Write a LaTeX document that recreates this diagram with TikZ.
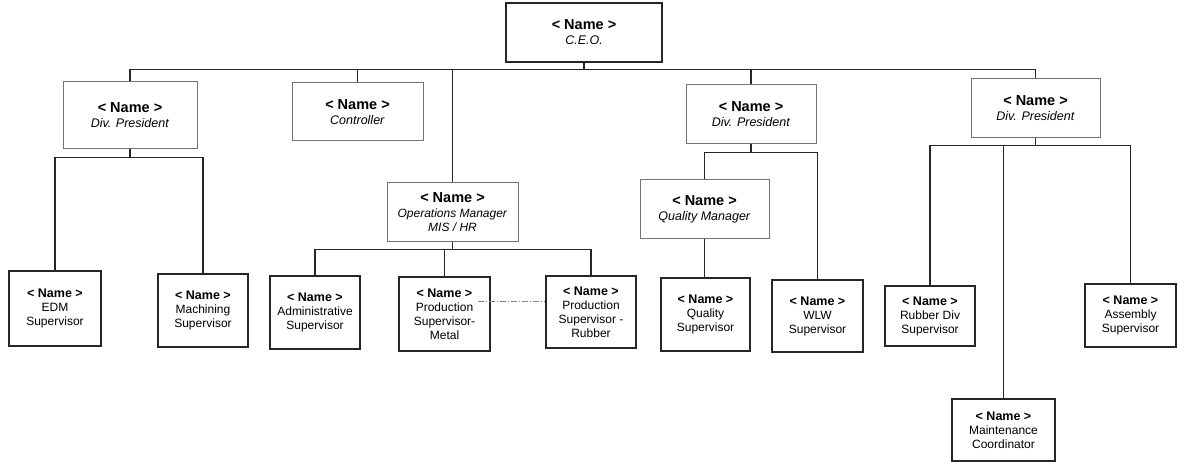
\documentclass[tikz,border=0pt]{standalone}
\usepackage{fontspec}
\setmainfont{Liberation Sans}
\begin{document}
\begin{tikzpicture}[x=1pt,y=-1pt,
  conn/.style={line width=1.4pt, draw=black!85},
  topbox/.style={draw=black!85, line width=1.3pt, inner sep=0pt, align=center,
    font=\fontsize{12.5}{15}\selectfont},
  midbox/.style={draw=black!55, line width=1pt, inner sep=0pt, align=center,
    font=\fontsize{12.5}{15}\selectfont},
  lowbox/.style={draw=black!85, line width=1.3pt, inner sep=0pt, align=center,
    font=\fontsize{12}{14}\selectfont},
  dotline/.style={draw=black!50, line width=0.6pt, dash pattern=on 6pt off 2pt on 1pt off 2pt}
]
\useasboundingbox (0,0) rectangle (1180,462);
\newcommand{\NM}{\textbf{\fontsize{14.5}{15}\selectfont < Name >}}
\newcommand{\NL}{\textbf{\fontsize{12.5}{14}\selectfont < Name >}}

% level 0
\node[topbox, minimum width=156pt, minimum height=59pt] (ceo) at (584,32.5) {\NM\\\textit{C.E.O.}};

% level 1
\node[midbox, minimum width=134pt, minimum height=67pt] (dp1) at (130,115.5) {\NM\\\textit{Div. President}};
\node[midbox, minimum width=131pt, minimum height=58pt] (ctrl) at (357.5,112) {\NM\\\textit{Controller}};
\node[midbox, minimum width=130pt, minimum height=59pt] (dp2) at (751,114.5) {\NM\\\textit{Div. President}};
\node[midbox, minimum width=129pt, minimum height=59pt] (dp3) at (1035.5,108.5) {\NM\\\textit{Div. President}};

% level 2
\node[midbox, minimum width=131pt, minimum height=59pt, font=\fontsize{12}{14.5}\selectfont] (ops) at (452.5,212.5) {\NM\\\textit{Operations Manager}\\\textit{MIS / HR}};
\node[midbox, minimum width=129pt, minimum height=59pt] (qm) at (704.5,209.5) {\NM\\\textit{Quality Manager}};

% level 3
\node[lowbox, minimum width=92pt, minimum height=75pt] (edm) at (55,308.5) {\NL\\EDM\\Supervisor};
\node[lowbox, minimum width=90pt, minimum height=73pt] (mach) at (203,310.5) {\NL\\Machining\\Supervisor};
\node[lowbox, minimum width=90pt, minimum height=73pt] (adm) at (315,312.5) {\NL\\Administrative\\Supervisor};
\node[lowbox, minimum width=91pt, minimum height=74pt] (metal) at (444.5,314) {\NL\\Production\\Supervisor-\\Metal};
\node[lowbox, minimum width=90pt, minimum height=72pt] (rub) at (591,312) {\NL\\Production\\Supervisor -\\Rubber};
\node[lowbox, minimum width=89pt, minimum height=73pt] (qs) at (705.5,314.5) {\NL\\Quality\\Supervisor};
\node[lowbox, minimum width=91pt, minimum height=72pt] (wlw) at (817.5,316) {\NL\\WLW\\Supervisor};
\node[lowbox, minimum width=90pt, minimum height=60pt] (rdiv) at (930,316) {\NL\\Rubber Div\\Supervisor};
\node[lowbox, minimum width=91pt, minimum height=63pt] (asm) at (1130.5,315.5) {\NL\\Assembly\\Supervisor};
\node[lowbox, minimum width=103pt, minimum height=62pt] (maint) at (1003.5,430) {\NL\\Maintenance\\Coordinator};

% connectors
\draw[conn] (ceo.south) -- ++(0,7) coordinate (tb);
\draw[conn] (dp1.north) |- (tb) -| (dp3.north);
\draw[conn] (ctrl.north) -- (ctrl.north |- tb);
\draw[conn] (ops.north) -- (ops.north |- tb);
\draw[conn] (dp2.north) -- (dp2.north |- tb);

\draw[conn] (dp1.south) -- ++(0,8) coordinate (b1);
\draw[conn] (edm.north) |- (b1) -| (mach.north);

\draw[conn] (ops.south) -- ++(0,7) coordinate (b2);
\draw[conn] (adm.north) |- (b2) -| (rub.north);
\draw[conn] (metal.north) -- (metal.north |- b2);

\draw[conn] (dp2.south) -- ++(0,8) coordinate (b3);
\draw[conn] (qm.north) |- (b3) -| (wlw.north);
\draw[conn] (qm.south) -- (qm.south |- qs.north);

\draw[conn] (dp3.south) -- ++(0,7) coordinate (b4);
\draw[conn] (rdiv.north) |- (b4) -| (asm.north);
\draw[conn] (maint.north) -- (maint.north |- b4);

\coordinate (dl) at (478,301);
\draw[dotline] (dl) -- (dl -| rub.west);
\end{tikzpicture}
\end{document}
